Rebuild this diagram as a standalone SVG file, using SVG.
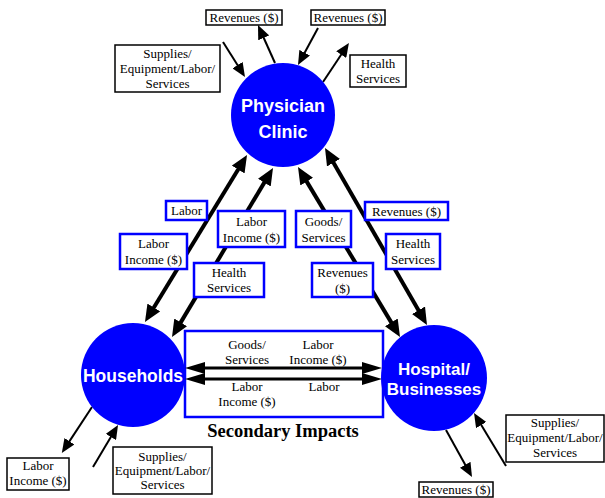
<svg xmlns="http://www.w3.org/2000/svg" width="605" height="498" viewBox="0 0 605 498">
<style>
.lbl{font-family:"Liberation Serif","Times New Roman",serif;font-size:13px;fill:#000;text-anchor:middle}
.nd{font-family:"Liberation Sans",Arial,sans-serif;font-weight:bold;fill:#fff;text-anchor:middle}
.bb{fill:#fff;stroke:#0000ff;stroke-width:2.5}
.kb{fill:#fff;stroke:#000;stroke-width:1.5}
.thick{stroke:#000;stroke-width:4;marker-start:url(#ht);marker-end:url(#ht)}
.thin{stroke:#000;stroke-width:2;marker-end:url(#hs)}
.hz{stroke:#000;stroke-width:3;marker-start:url(#hh);marker-end:url(#hh)}
.circ{fill:#0000ff}
</style>
<defs>
<marker id="ht" viewBox="0 0 17 15" refX="2" refY="7.5" markerWidth="17" markerHeight="15" orient="auto-start-reverse" markerUnits="userSpaceOnUse"><path d="M0,0L17,7.5L0,15z" fill="#000"/></marker>
<marker id="hs" viewBox="0 0 14 12" refX="2" refY="6" markerWidth="14" markerHeight="12" orient="auto-start-reverse" markerUnits="userSpaceOnUse"><path d="M0,0L14,6L0,12z" fill="#000"/></marker>
<marker id="hh" viewBox="0 0 20 12" refX="2" refY="6" markerWidth="20" markerHeight="12" orient="auto-start-reverse" markerUnits="userSpaceOnUse"><path d="M0,0L20,6L0,12z" fill="#000"/></marker>
</defs>
<rect width="605" height="498" fill="#fff"/>

<g id="secondary-box">
<rect x="185" y="331" width="198" height="86" fill="#fff" stroke="#0000ff" stroke-width="2.5"/>
<text class="lbl" x="247" y="349">Goods/</text>
<text class="lbl" x="247" y="364">Services</text>
<text class="lbl" x="318" y="349">Labor</text>
<text class="lbl" x="318" y="364">Income ($)</text>
<text class="lbl" x="247" y="391">Labor</text>
<text class="lbl" x="247" y="406">Income ($)</text>
<text class="lbl" x="324" y="391">Labor</text>
<text x="283" y="437" font-family="Liberation Serif,'Times New Roman',serif" font-weight="bold" font-size="18.5" text-anchor="middle">Secondary Impacts</text>
</g>

<g id="connectors">
<line class="thick" x1="239.2" y1="167.8" x2="152.8" y2="309.2"/>
<line class="thick" x1="265.3" y1="180.9" x2="179.7" y2="324.1"/>
<line class="thick" x1="305.7" y1="179.9" x2="392.3" y2="324.1"/>
<line class="thick" x1="332.5" y1="161" x2="419.5" y2="312"/>
<line class="thin" x1="223" y1="42" x2="238.6" y2="66.8"/>
<line class="thin" x1="275" y1="63" x2="262.9" y2="36"/>
<line class="thin" x1="318" y1="28" x2="303.7" y2="54.5"/>
<line class="thin" x1="323" y1="82" x2="342.3" y2="53"/>
<line class="thin" x1="92" y1="407" x2="68.4" y2="442.9"/>
<line class="thin" x1="93" y1="467" x2="111.9" y2="435.3"/>
<line class="thin" x1="446" y1="430" x2="466.2" y2="466.5"/>
<line class="thin" x1="506" y1="466" x2="480.2" y2="423.3"/>
<line class="hz" x1="203" y1="368" x2="364" y2="368"/>
<line class="hz" x1="203" y1="379" x2="364" y2="379"/>
</g>

<g id="physician-clinic">
<circle class="circ" cx="283" cy="115" r="52"/>
<text class="nd" x="283" y="112" font-size="18">Physician</text>
<text class="nd" x="283" y="138" font-size="18">Clinic</text>
</g>
<g id="households">
<circle class="circ" cx="133" cy="375" r="52"/>
<text class="nd" x="133" y="382" font-size="17.5">Households</text>
</g>
<g id="hospital-businesses">
<circle class="circ" cx="434" cy="378" r="53"/>
<text class="nd" x="434" y="375" font-size="17">Hospital/</text>
<text class="nd" x="434" y="395" font-size="17">Businesses</text>
</g>

<g id="lbl-labor">
<rect class="bb" x="166" y="201" width="41" height="19"/>
<text class="lbl" x="186.5" y="215">Labor</text>
</g>
<g id="lbl-labor-income-left">
<rect class="bb" x="120" y="234" width="67" height="35"/>
<text class="lbl" x="153.5" y="248">Labor</text>
<text class="lbl" x="153.5" y="264">Income ($)</text>
</g>
<g id="lbl-labor-income-mid">
<rect class="bb" x="218" y="211" width="67" height="36"/>
<text class="lbl" x="251.5" y="226">Labor</text>
<text class="lbl" x="251.5" y="242">Income ($)</text>
</g>
<g id="lbl-health-left">
<rect class="bb" x="194" y="263" width="70" height="34"/>
<text class="lbl" x="229" y="277">Health</text>
<text class="lbl" x="229" y="292">Services</text>
</g>
<g id="lbl-goods">
<rect class="bb" x="296" y="211" width="55" height="36"/>
<text class="lbl" x="323.5" y="226">Goods/</text>
<text class="lbl" x="323.5" y="242">Services</text>
</g>
<g id="lbl-revenues-mid">
<rect class="bb" x="312" y="263" width="61" height="34"/>
<text class="lbl" x="342.5" y="277">Revenues</text>
<text class="lbl" x="342.5" y="293">($)</text>
</g>
<g id="lbl-revenues-right">
<rect class="bb" x="365" y="202" width="83" height="18"/>
<text class="lbl" x="406.5" y="216">Revenues ($)</text>
</g>
<g id="lbl-health-right">
<rect class="bb" x="386" y="234" width="54" height="35"/>
<text class="lbl" x="413" y="248">Health</text>
<text class="lbl" x="413" y="264">Services</text>
</g>

<g id="box-revenues-top1">
<rect class="kb" x="206" y="10" width="76" height="15"/>
<text class="lbl" x="244" y="22">Revenues ($)</text>
</g>
<g id="box-revenues-top2">
<rect class="kb" x="311" y="10" width="74" height="15"/>
<text class="lbl" x="348" y="22">Revenues ($)</text>
</g>
<g id="box-supplies-top">
<rect class="kb" x="115" y="45" width="105" height="47"/>
<text class="lbl" x="167.5" y="58">Supplies/</text>
<text class="lbl" x="167.5" y="73">Equipment/Labor/</text>
<text class="lbl" x="167.5" y="88">Services</text>
</g>
<g id="box-health-top">
<rect class="kb" x="350" y="55" width="56" height="32"/>
<text class="lbl" x="378" y="68">Health</text>
<text class="lbl" x="378" y="83">Services</text>
</g>
<g id="box-labor-income-bl">
<rect class="kb" x="7" y="458" width="62" height="32"/>
<text class="lbl" x="38" y="470">Labor</text>
<text class="lbl" x="38" y="485">Income ($)</text>
</g>
<g id="box-supplies-bottom">
<rect class="kb" x="113" y="447" width="99" height="47"/>
<text class="lbl" x="162.5" y="461">Supplies/</text>
<text class="lbl" x="162.5" y="475">Equipment/Labor/</text>
<text class="lbl" x="162.5" y="489">Services</text>
</g>
<g id="box-supplies-right">
<rect class="kb" x="506" y="415" width="98" height="47"/>
<text class="lbl" x="555" y="427">Supplies/</text>
<text class="lbl" x="555" y="442">Equipment/Labor/</text>
<text class="lbl" x="555" y="457">Services</text>
</g>
<g id="box-revenues-bottom">
<rect class="kb" x="419" y="482" width="74" height="15"/>
<text class="lbl" x="456" y="494">Revenues ($)</text>
</g>
</svg>
